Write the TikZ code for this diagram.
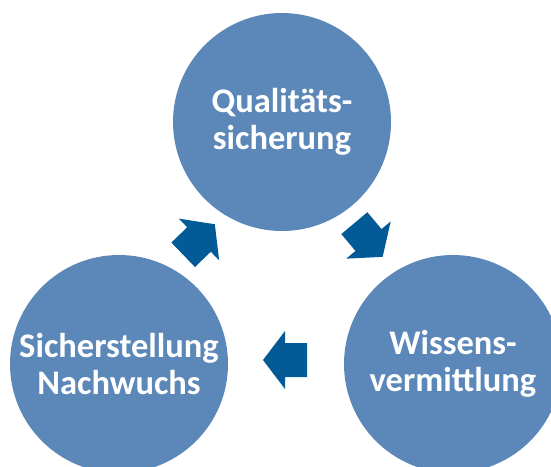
\documentclass[tikz,border=0pt]{standalone}
\usepackage{fontspec}
\setmainfont{Carlito}
\definecolor{circfill}{RGB}{92,136,185}
\definecolor{arrowblue}{RGB}{2,90,150}
\tikzset{
  circ/.style={circle, fill=circfill, draw=none, minimum size=218pt, inner sep=0pt,
    text=white, align=center, font=\bfseries\fontsize{34.5}{37}\selectfont},
  blockarrow/.style={fill=arrowblue, draw=none}
}
\begin{document}
\begin{tikzpicture}[x=1pt,y=-1pt]
\useasboundingbox (0,0) rectangle (551,466);
\clip (0,0) rectangle (551,466);
\node[circ] (q) at (282,122) {Qualitäts-\\sicherung};
\node[circ] (s) at (119,364) {Sicherstellung\\Nachwuchs};
\node[circ] (w) at (453,364) {Wissens-\\vermittlung};
% block arrows (local shape points along +x)
\foreach \name/\px/\py/\ang in {a1/199/239.5/44, a2/368.5/240/-50, a3/285/360/180}{
  \coordinate (\name) at (\px,\py);
  \fill[blockarrow, shift={(\name)}, rotate=\ang]
    (22,0) -- (0,29) -- (0,17) -- (-22,17) -- (-22,-17) -- (0,-17) -- (0,-29) -- cycle;
}
\end{tikzpicture}
\end{document}
